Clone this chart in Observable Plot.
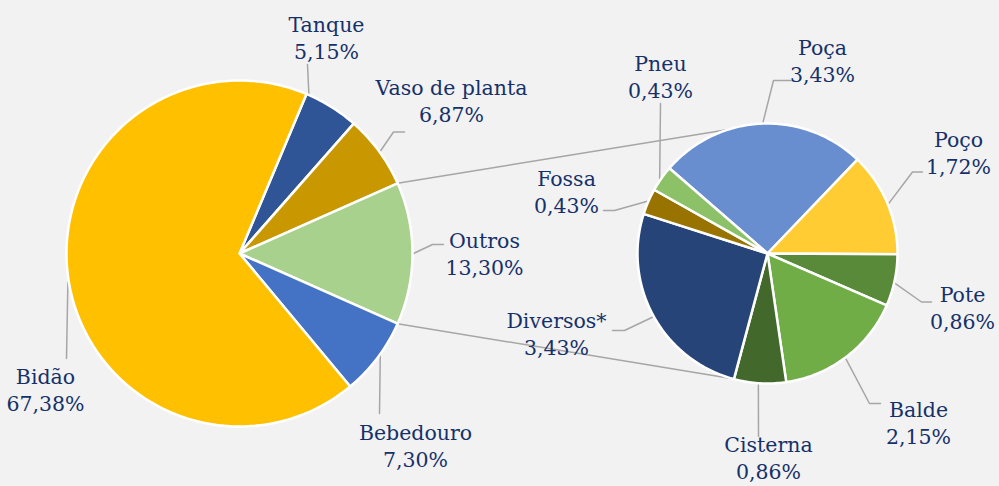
<!DOCTYPE html>
<html>
<head>
<meta charset="utf-8">
<script src="https://cdn.jsdelivr.net/npm/d3@7"></script>
<script src="https://cdn.jsdelivr.net/npm/@observablehq/plot@0.6"></script>
<style>
  html, body { margin: 0; padding: 0; background: #F2F2F2; }
  #chart { width: 999px; height: 486px; }
</style>
</head>
<body>
<div id="chart"></div>
<script>
// ---- data ----
// main pie (clockwise order)
const mainNames  = ["Tanque", "Vaso de planta", "Outros", "Bebedouro", "Bidão"];
const mainValues = [5.15, 6.87, 13.30, 7.30, 67.38];
const mainColors = ["#2F5597", "#C99700", "#A9D18E", "#4472C4", "#FFC000"];
// secondary pie: breakdown of "Outros" (clockwise order)
const subNames  = ["Poça", "Poço", "Pote", "Balde", "Cisterna", "Diversos*", "Fossa", "Pneu"];
const subValues = [3.43, 1.72, 0.86, 2.15, 0.86, 3.43, 0.43, 0.43];
const subColors = ["#698ED0", "#FFCD33", "#588A3A", "#70AD47", "#43682B", "#264478", "#997300", "#8CC168"];

// ---- layout ----
const W = 999, H = 486;
const P1 = {cx: 239, cy: 253, r: 173};
const P2 = {cx: 767, cy: 253, r: 130, start: -49}; // clockwise degrees from 12 o'clock
const textColor = "#16316A";
const leaderColor = "#A6A6A6";
// label centres and leader lines (label-side points, then angle on pie in math degrees)
const labelLayout = {
  "Tanque":        {pie: 1, x: 326, y: 36,  pts: [[307, 64]], ang: 66.5},
  "Vaso de planta":{pie: 1, x: 451, y: 99,  pts: [[404, 131.5], [393, 131.5]], ang: 36},
  "Outros":        {pie: 1, x: 484, y: 252, pts: [[443, 244], [432, 244]], ang: 0},
  "Bebedouro":     {pie: 1, x: 415, y: 444, pts: [[379, 413]], ang: -36},
  "Bidão":         {pie: 1, x: 45,  y: 388, pts: [[66, 358]], ang: 189.5},
  "Pneu":          {pie: 2, x: 660, y: 75,  pts: [[660, 103]], ang: 145.4},
  "Poça":          {pie: 2, x: 822, y: 59,  pts: [[790, 80], [773, 80]], ang: 92},
  "Poço":          {pie: 2, x: 958, y: 151, pts: [[922, 171.5], [912, 171.5]], ang: 22.4},
  "Pote":          {pie: 2, x: 962, y: 306, pts: [[931, 301.5], [921, 301.5]], ang: -13.2},
  "Balde":         {pie: 2, x: 918, y: 421, pts: [[880, 403], [869, 403]], ang: -53.3},
  "Cisterna":      {pie: 2, x: 768, y: 456, pts: [[758, 436]], ang: -94},
  "Diversos*":     {pie: 2, x: 556, y: 332, pts: [[612, 330], [624, 330]], ang: -151},
  "Fossa":         {pie: 2, x: 566, y: 190, pts: [[603, 210], [614, 210]], ang: 156.5}
};
const connectorAngles2 = [107.5, -105.5]; // where connectors touch the secondary pie

// ---- geometry helpers ----
const rad = d => d * Math.PI / 180;
function polar(p, mathDeg, r = p.r) {
  return [p.cx + r * Math.cos(rad(mathDeg)), p.cy - r * Math.sin(rad(mathDeg))];
}
function slices(p, names, values, colors, startClock) {
  const total = d3.sum(values);
  let a = startClock;
  const out = [];
  names.forEach((n, i) => {
    const span = values[i] / total * 360;
    out.push({name: n, value: values[i], color: colors[i], a0: a, a1: a + span});
    a += span;
  });
  return out;
}
// main pie: Outros centred on 3 o'clock
const tot1 = d3.sum(mainValues);
const before = d3.sum(mainValues.slice(0, 2)) / tot1 * 360;
const outSpan = mainValues[2] / tot1 * 360;
const start1 = 90 - outSpan / 2 - before;
const s1 = slices(P1, mainNames, mainValues, mainColors, start1);
const s2 = slices(P2, subNames, subValues, subColors, P2.start);

function polyPoints(p, s, key) {
  const pts = [{key, color: s.color, x: p.cx, y: p.cy}];
  const n = Math.max(2, Math.ceil((s.a1 - s.a0) / 1));
  for (let k = 0; k <= n; k++) {
    const t = rad(s.a0 + (s.a1 - s.a0) * k / n); // clockwise from 12
    pts.push({key, color: s.color, x: p.cx + p.r * Math.sin(t), y: p.cy - p.r * Math.cos(t)});
  }
  pts.push({key, color: s.color, x: p.cx, y: p.cy});
  return pts;
}
const polys = [
  ...s1.flatMap(s => polyPoints(P1, s, "m-" + s.name)),
  ...s2.flatMap(s => polyPoints(P2, s, "s-" + s.name))
];

// connectors: Outros edges -> secondary pie
const outros = s1[2];
const clockToMath = c => 90 - c;
const c1a = polar(P1, clockToMath(outros.a0)), c1b = polar(P2, connectorAngles2[0]);
const c2a = polar(P1, clockToMath(outros.a1)), c2b = polar(P2, connectorAngles2[1]);
const connectors = [
  {key: "c1", x: c1a[0], y: c1a[1]}, {key: "c1", x: c1b[0], y: c1b[1]},
  {key: "c2", x: c2a[0], y: c2a[1]}, {key: "c2", x: c2b[0], y: c2b[1]}
];

// labels & leaders
const fmt = v => v.toFixed(2).replace(".", ",") + "%";
const allSlices = [...s1, ...s2];
const labels = allSlices.map(s => {
  const L = labelLayout[s.name];
  return {x: L.x, y: L.y, text: s.name + "\n" + fmt(s.value)};
});
const leaders = allSlices.flatMap(s => {
  const L = labelLayout[s.name];
  const p = L.pie === 1 ? P1 : P2;
  const end = polar(p, L.ang, p.r + 1);
  return [...L.pts, end].map(([x, y]) => ({key: s.name, x, y}));
});

const chart = Plot.plot({
  width: W, height: H,
  margin: 0,
  style: {background: "#F2F2F2", overflow: "visible"},
  x: {domain: [0, W], range: [0, W], axis: null},
  y: {domain: [0, H], range: [0, H], axis: null},
  color: {type: "identity"},
  marks: [
    Plot.line(connectors, {x: "x", y: "y", z: "key", stroke: leaderColor, strokeWidth: 1.5}),
    Plot.line(leaders, {x: "x", y: "y", z: "key", stroke: leaderColor, strokeWidth: 1.5}),
    Plot.line(polys, {x: "x", y: "y", z: "key", fill: "color", stroke: "white", strokeWidth: 2.5, strokeLinejoin: "round"}),
    Plot.text(labels, {x: "x", y: "y", text: "text", fill: textColor, fontSize: 20.5, lineHeight: 1.32,
      fontFamily: "DejaVu Serif", lineAnchor: "middle", textAnchor: "middle"})
  ]
});
document.getElementById("chart").appendChild(chart);
</script>
</body>
</html>
